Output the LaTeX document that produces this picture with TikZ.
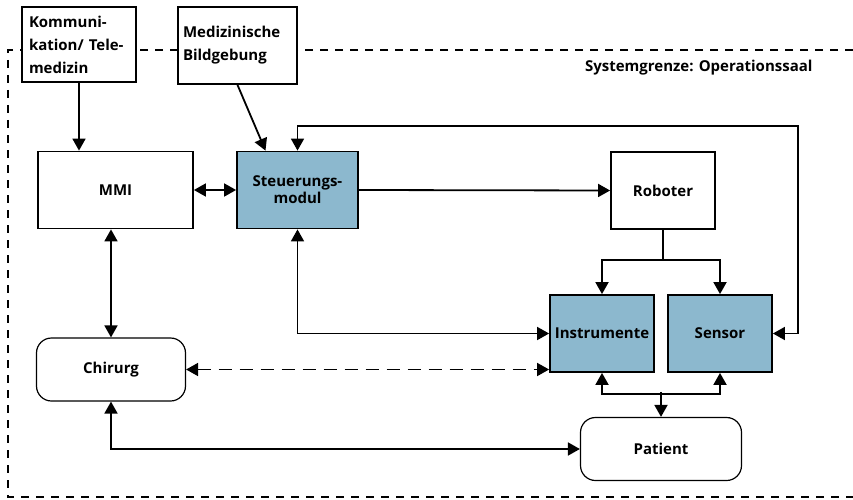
\documentclass[tikz,border=0pt]{standalone}
\usepackage{fontspec}
\setmainfont{Open Sans}
\usepackage{xcolor}
\usetikzlibrary{arrows.meta,positioning}
\definecolor{boxblue}{HTML}{8CB8CE}

\begin{document}
\begin{tikzpicture}[
        x=1pt, y=-1pt,
        >={Triangle[length=12pt,width=13pt]},
        every node/.style={font=\bfseries\fontsize{15}{23}\selectfont},
        block/.style={rectangle,draw,line width=1.8pt,fill=white,minimum width=104pt,minimum height=77pt,inner sep=2pt},
        module/.style={block,fill=boxblue},
        actor/.style={rectangle,draw,rounded corners=15pt,line width=1.2pt,fill=white,minimum height=63pt},
        ext/.style={rectangle,draw,line width=1.8pt,fill=white,align=left,inner sep=0pt},
        link/.style={line width=1.8pt},
        border/.style={line width=1.8pt,dash pattern=on 8pt off 7pt}
      ]
        \useasboundingbox (0,0) rectangle (853,500);
        % system boundary
        \draw[border] (853,50) -- (8,50) -- (8,497) -- (853,497);
        \node[font=\bfseries\fontsize{15}{17}\selectfont,anchor=east] (grenze) at (816,68) {Systemgrenze: Operationssaal};
        % external boxes
        \node[ext,minimum width=114pt,minimum height=75pt,text width=100pt] (komm) at (79,44.5) {Kommuni-\\kation/ Tele-\\medizin};
        \node[ext,minimum width=119pt,minimum height=77pt,text width=109pt] (bild) at (237.5,45.5) {Medizinische\\Bildgebung};
        % blocks
        \node[block,minimum width=155pt]  (mmi)    at (115.5,190) {MMI};
        \node[module,minimum width=121pt,align=center,font=\bfseries\fontsize{15}{17}\selectfont] (steuer) at (297.5,190) {Steuerungs-\\modul};
        \node[block]                      (robot)  at (663,190.5) {Roboter};
        \node[module]                     (instr)  at (602,333.5) {Instrumente};
        \node[module]                     (sensor) at (720,333.5) {Sensor};
        \node[actor,minimum width=149pt]  (chir)   at (111,369.5) {Chirurg};
        \node[actor,minimum width=161pt]  (patient) at (661,449) {Patient};
        % connectors
        \draw[link,->] (komm.south) -- (komm.south |- mmi.north);
        \draw[link,->] (bild.south) -- ([xshift=-32pt]steuer.north);
        \draw[link,<->] (steuer.north) -- ++(0,-25) -| ([xshift=25pt]sensor.east) -- (sensor.east);
        \draw[link,<->] (mmi.east) -- (steuer.west);
        \draw[link,->] (steuer.east) -- (robot.west);
        \draw[link,->] (robot.south) -- ++(0,30) -| (instr.north);
        \draw[link,->] (robot.south) ++(0,30) -| (sensor.north);
        \draw[link,<->] (mmi.south -| chir.north) -- (chir.north);
        \draw[link,<->] (steuer.south) |- (instr.west);
        \draw[link,<->,dash pattern=on 13pt off 8pt] (chir.east) -- (chir.east -| instr.west);
        \draw[link,<->] (chir.south) |- (patient.west);
        \draw[link,<->] (instr.south) -- ++(0,21) -| (sensor.south);
        \draw[link,->] (patient.north) ++(0,-25) -- (patient.north);
      \end{tikzpicture}
\end{document}
